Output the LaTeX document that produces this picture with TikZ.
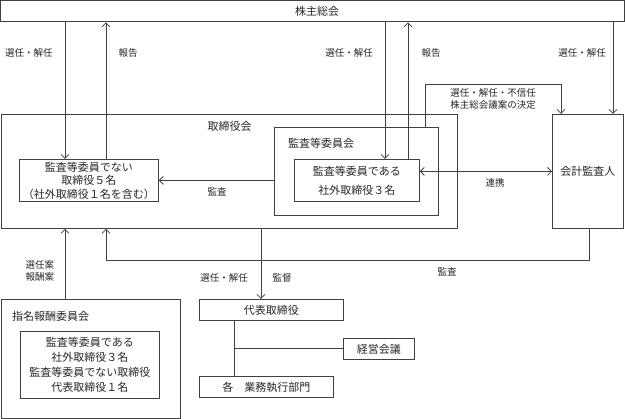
\documentclass[tikz,border=0pt]{standalone}
\usepackage{fontspec}
\setmainfont{Noto Sans CJK JP}
\usetikzlibrary{arrows.meta}
\begin{document}
\begin{tikzpicture}[x=1pt,y=-1pt,
  box/.style={draw=black!75, line width=0.8pt, inner sep=0pt, anchor=north west},
  boxtext/.style={font=\fontsize{11}{14}\selectfont, align=center, text=black!85},
  lbl/.style={font=\fontsize{9.5}{12}\selectfont, inner sep=0pt, align=center, text=black!85},
  conn/.style={draw=black!75, line width=0.8pt},
  arr/.style={conn, -{Straight Barb[length=4pt,width=8pt]}},
  darr/.style={conn, {Straight Barb[length=4pt,width=8pt]}-{Straight Barb[length=4pt,width=8pt]}}]
\useasboundingbox (0,0) rectangle (625,419);

% boxes
\node[box, minimum width=623.5pt, minimum height=21pt] (agm) at (0.5,0.5) {};
\node[boxtext] (agmt) at (317,11) {株主総会};

\node[box, minimum width=456pt, minimum height=114pt] (board) at (1,114) {};
\node[boxtext] (boardt) at (229.5,126) {取締役会};

\node[box, minimum width=164pt, minimum height=88pt] (acc) at (274,127) {};
\node[boxtext, anchor=west, inner sep=0pt] (acct) at (288,143) {監査等委員会};

\node[box, minimum width=125pt, minimum height=42pt, boxtext] (accin) at (294,159)
  {監査等委員である\\[5pt]社外取締役３名};

\node[box, minimum width=139pt, minimum height=42pt, boxtext, font=\fontsize{11}{13.5}\selectfont] (nonacc) at (19,159)
  {監査等委員でない\\取締役５名\\（社外取締役１名を含む）};

\node[box, minimum width=71pt, minimum height=114pt, boxtext] (auditor) at (552,114) {会計監査人};

\node[box, minimum width=179pt, minimum height=119pt] (nom) at (1,299) {};
\node[boxtext, anchor=west, inner sep=0pt] (nomt) at (12,316) {指名報酬委員会};
\node[box, minimum width=139pt, minimum height=67pt, boxtext, font=\fontsize{11}{15}\selectfont] (nomin) at (20,331)
  {監査等委員である\\社外取締役３名\\監査等委員でない取締役\\代表取締役１名};

\node[box, minimum width=144pt, minimum height=21pt, boxtext] (rep) at (199,299) {代表取締役};
\node[box, minimum width=71pt, minimum height=21pt, boxtext] (mgmt) at (343,338) {経営会議};
\node[box, minimum width=134pt, minimum height=21pt, boxtext] (dept) at (199,376) {各　業務執行部門};

% guide coordinates
\coordinate (xA) at (65,0);
\coordinate (xB) at (106,0);
\coordinate (xC) at (385,0);
\coordinate (xD) at (408,0);
\coordinate (xE) at (613,0);
\coordinate (xF) at (425,0);
\coordinate (br) at (561,84);
\coordinate (xH) at (589,0);
\coordinate (aud) at (106,260);
\coordinate (xI) at (261,0);
\coordinate (xJ) at (234,0);

% connectors
\draw[arr] (agm.south -| xA) -- (nonacc.north -| xA);
\draw[arr] (nonacc.north -| xB) -- (agm.south -| xB);
\draw[arr] (agm.south -| xC) -- (accin.north -| xC);
\draw[arr] (accin.north -| xD) -- (agm.south -| xD);
\draw[arr] (agm.south -| xE) -- (auditor.north -| xE);
\draw[arr] (acc.north -| xF) |- (br) -- (auditor.north -| br);
\draw[arr] (acc.west |- nonacc.east) -- (nonacc.east);
\draw[darr] (accin.east |- auditor.west) -- (auditor.west);
\draw[arr] (auditor.south -| xH) |- (aud) -- (board.south -| aud);
\draw[arr] (board.south -| xI) -- (rep.north -| xI);
\draw[arr] (nom.north -| xA) -- (board.south -| xA);
\draw[conn] (rep.south -| xJ) -- (dept.north -| xJ);
\draw[conn] (mgmt.west -| xJ) -- (mgmt.west);

% labels
\node[lbl] (l1) at (29,53) {選任・解任};
\node[lbl] (l2) at (128,53) {報告};
\node[lbl] (l3) at (349,53) {選任・解任};
\node[lbl] (l4) at (431,53) {報告};
\node[lbl] (l5) at (582,53) {選任・解任};
\node[lbl, font=\fontsize{9.5}{11.5}\selectfont] (l6) at (493,99) {選任・解任・不信任\\株主総会議案の決定};
\node[lbl] (l7) at (217,192) {監査};
\node[lbl] (l8) at (495,183) {連携};
\node[lbl] (l9) at (447,272) {監査};
\node[lbl] (l10) at (224,278) {選任・解任};
\node[lbl] (l11) at (282,278) {監督};
\node[lbl, font=\fontsize{9.5}{12}\selectfont] (l12) at (40,271) {選任案\\報酬案};
\end{tikzpicture}
\end{document}
